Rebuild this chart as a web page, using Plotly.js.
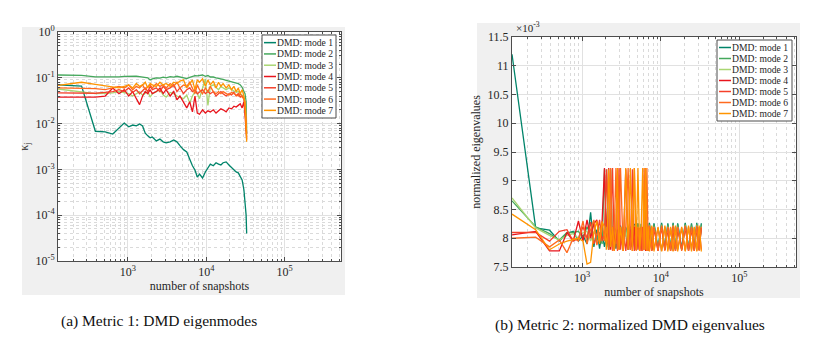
<!DOCTYPE html>
<html>
<head>
<meta charset="utf-8">
<script src="https://cdn.plot.ly/plotly-3.0.1.min.js"></script>
<style>
  html, body { margin: 0; padding: 0; background: #fff; }
  #chart { width: 831px; height: 358px; }
</style>
</head>
<body>
<div id="chart"></div>
<script>
// ---- panel (a): DMD eigenmode metric kappa_j vs number of snapshots ----
const snapshotsA = [128, 256, 384, 512, 640, 768, 896, 1024, 1152, 1280, 1408, 1536, 1664, 1792, 1920, 2048,
  2304, 2560, 2816, 3072, 3456, 3840, 4224, 4608, 5120, 5632, 6144, 6656, 7168, 7680, 8192, 8960, 9728,
  10496, 11264, 12288, 13312, 14336, 15360, 16384, 17920, 19456, 20992, 22528, 24064, 25600, 27136,
  28672, 30208, 31232, 32256, 32768];

const kappa1 = [0.070, 0.066, 0.0068, 0.0066, 0.0059, 0.0080, 0.0103, 0.0085, 0.0093, 0.0089, 0.0098, 0.0089,
  0.0062, 0.0054, 0.0049, 0.0051, 0.0042, 0.0046, 0.0040, 0.0038, 0.0040, 0.0044, 0.0040, 0.0033, 0.0027,
  0.0024, 0.0016, 0.0012, 0.00097, 0.00068, 0.00079, 0.00065, 0.00088, 0.0011, 0.0013, 0.0012, 0.0014,
  0.0013, 0.00125, 0.0014, 0.00146, 0.00125, 0.0011, 0.00097, 0.00088, 0.00084, 0.00072, 0.00059,
  0.00036, 0.00022, 0.0001, 0.00004];
const kappa2 = [0.115, 0.113, 0.105, 0.104, 0.104, 0.105, 0.107, 0.108, 0.110, 0.108, 0.106, 0.104, 0.102,
  0.100, 0.090, 0.095, 0.100, 0.098, 0.103, 0.100, 0.106, 0.103, 0.108, 0.104, 0.098, 0.096, 0.102, 0.108,
  0.112, 0.110, 0.112, 0.115, 0.108, 0.112, 0.104, 0.104, 0.100, 0.098, 0.095, 0.092, 0.088, 0.085, 0.083,
  0.080, 0.078, 0.075, 0.070, 0.062, 0.050, 0.045, 0.030, 0.006];
const kappa3 = [0.057, 0.048, 0.045, 0.046, 0.047, 0.050, 0.048, 0.045, 0.040, 0.044, 0.050, 0.042, 0.045,
  0.050, 0.038, 0.045, 0.050, 0.055, 0.042, 0.038, 0.048, 0.045, 0.040, 0.038, 0.035, 0.042, 0.028, 0.040,
  0.050, 0.045, 0.035, 0.060, 0.095, 0.025, 0.065, 0.070, 0.060, 0.055, 0.065, 0.060, 0.055, 0.060, 0.055,
  0.050, 0.048, 0.050, 0.045, 0.040, 0.038, 0.030, 0.015, 0.008];
const kappa4 = [0.038, 0.038, 0.038, 0.040, 0.060, 0.045, 0.055, 0.040, 0.050, 0.035, 0.026, 0.040, 0.050,
  0.045, 0.055, 0.045, 0.050, 0.060, 0.045, 0.055, 0.040, 0.050, 0.033, 0.040, 0.028, 0.022, 0.030, 0.018,
  0.040, 0.017, 0.016, 0.020, 0.017, 0.019, 0.018, 0.020, 0.017, 0.019, 0.021, 0.020, 0.018, 0.022, 0.021,
  0.024, 0.023, 0.025, 0.027, 0.022, 0.030, 0.015, 0.006, 0.0045];
const kappa5 = [0.047, 0.047, 0.046, 0.048, 0.050, 0.055, 0.050, 0.060, 0.048, 0.055, 0.045, 0.052, 0.060,
  0.050, 0.065, 0.055, 0.060, 0.050, 0.065, 0.055, 0.060, 0.070, 0.050, 0.060, 0.045, 0.055, 0.060, 0.050,
  0.055, 0.045, 0.050, 0.055, 0.045, 0.050, 0.045, 0.050, 0.040, 0.045, 0.050, 0.045, 0.040, 0.045, 0.042,
  0.048, 0.040, 0.045, 0.038, 0.040, 0.035, 0.020, 0.008, 0.006];
const kappa6 = [0.060, 0.060, 0.058, 0.055, 0.060, 0.065, 0.060, 0.070, 0.055, 0.065, 0.060, 0.070, 0.055,
  0.065, 0.070, 0.060, 0.075, 0.065, 0.070, 0.060, 0.075, 0.065, 0.080, 0.060, 0.070, 0.065, 0.080, 0.060,
  0.045, 0.070, 0.055, 0.045, 0.060, 0.050, 0.065, 0.050, 0.045, 0.050, 0.045, 0.050, 0.045, 0.042, 0.048,
  0.045, 0.042, 0.040, 0.045, 0.038, 0.035, 0.030, 0.012, 0.005];
const kappa7 = [0.068, 0.080, 0.072, 0.066, 0.062, 0.060, 0.065, 0.070, 0.060, 0.075, 0.065, 0.070, 0.080,
  0.060, 0.075, 0.070, 0.065, 0.080, 0.070, 0.075, 0.065, 0.080, 0.075, 0.085, 0.090, 0.060, 0.075, 0.090,
  0.055, 0.090, 0.080, 0.095, 0.065, 0.090, 0.070, 0.085, 0.060, 0.080, 0.065, 0.075, 0.060, 0.070, 0.055,
  0.065, 0.050, 0.060, 0.045, 0.055, 0.040, 0.025, 0.008, 0.004];

// ---- panel (b): normalized DMD eigenvalues (values in units of 1e-3) ----
const snapshotsB = [128, 256, 384, 512, 640, 768, 896, 1024, 1152, 1280, 1408, 1536, 1664, 1792, 1920, 2048,
  2176, 2304, 2432, 2560, 2688, 2816, 2944, 3072, 3328, 3584, 3840, 4096, 4352, 4608, 4864, 5120, 5376,
  5632, 5888, 6144, 6400, 6656, 6912, 7168, 7680, 8192, 9216, 10240, 11264, 12288, 13312, 14336, 15360,
  16384, 18432, 20480, 22528, 24576, 26624, 28672, 30720, 32768];

const eig1 = [11.2, 8.18, 8.14, 7.95, 8.08, 8.12, 7.95, 8.05, 7.9, 8.45, 7.85, 8.15, 7.82, 8.1,
  7.85, 8.05, 7.8, 8.15, 7.9, 8.2, 7.82, 8.1, 7.88, 8.22, 7.85, 8.18, 7.8, 8.2, 7.9, 8.25, 7.82, 8.26, 7.8,
  8.25, 7.82, 8.27, 7.8, 8.26, 7.82,
  8.27, 7.8, 8.26, 7.82, 8.27, 7.8, 8.26, 7.81, 8.27, 7.8, 8.26, 7.82, 8.27, 7.8, 8.26, 7.81, 8.27, 7.8, 8.26];
const eig2 = [8.65, 8.2, 8.08, 7.97, 8.1, 8.1, 8.12, 8.0, 8.2, 8.05, 8.3, 7.95, 8.1, 7.9,
  9.2, 7.85, 8.1, 9.2, 7.9, 8.2, 7.85, 8.15, 7.9, 8.2, 7.85, 8.2, 7.82, 8.18, 7.85, 8.22, 7.8, 8.25, 7.82,
  8.24, 7.8, 8.25, 7.85, 8.24, 7.8,
  8.25, 7.8, 8.24, 7.82, 8.25, 7.8, 8.24, 7.8, 8.25, 7.81, 8.24, 7.8, 8.25, 7.82, 8.24, 7.8, 8.25, 7.81, 8.24];
const eig3 = [8.7, 8.18, 8.05, 7.97, 8.05, 8.08, 8.0, 8.1, 8.12, 7.95, 8.1, 8.05, 8.2, 7.95,
  8.0, 9.2, 7.9, 8.15, 7.85, 8.2, 7.9, 8.1, 7.82, 8.2, 7.88, 8.15, 7.8, 8.2, 7.85, 8.22, 7.8, 8.2, 7.85,
  8.22, 7.8, 8.2, 7.82, 8.22, 7.8,
  8.22, 7.82, 8.2, 7.8, 8.22, 7.82, 8.2, 7.8, 8.22, 7.82, 8.2, 7.8, 8.22, 7.8, 8.2, 7.82, 8.22, 7.8, 8.2];
const eig4 = [8.06, 8.12, 7.78, 7.78, 8.1, 7.95, 8.3, 7.95, 8.32, 8.0, 8.25, 8.32, 7.95, 8.3,
  9.22, 7.9, 9.22, 7.8, 8.2, 7.78, 8.15, 9.2, 7.8, 8.2, 7.78, 9.2, 7.8, 8.15, 7.78, 8.2, 7.8, 8.18, 7.78,
  8.2, 7.8, 8.15, 7.78, 8.2, 7.78,
  8.2, 7.78, 8.18, 7.78, 8.2, 7.8, 8.18, 7.78, 8.2, 7.78, 8.18, 7.8, 8.2, 7.78, 8.18, 7.78, 8.2, 7.8, 8.18];
const eig5 = [8.1, 8.1, 7.95, 8.12, 8.15, 7.95, 8.0, 8.2, 8.0, 8.28, 7.9, 8.05, 8.32, 7.95,
  8.1, 9.2, 7.8, 8.2, 9.22, 7.8, 8.15, 7.78, 9.22, 7.8, 8.2, 7.78, 8.15, 7.8, 9.2, 7.78, 8.2, 7.8, 8.18,
  7.78, 8.2, 7.8, 8.15, 7.78, 8.2,
  7.78, 8.2, 7.8, 8.18, 7.78, 8.2, 7.8, 8.18, 7.78, 8.2, 7.8, 8.18, 7.78, 8.2, 7.8, 8.18, 7.78, 8.2, 7.8];
const eig6 = [8.0, 8.02, 7.85, 7.97, 7.75, 8.0, 7.95, 8.3, 7.9, 8.15, 8.32, 7.88, 8.05, 8.3,
  7.95, 8.2, 7.8, 9.22, 7.78, 8.15, 9.22, 7.8, 8.2, 9.22, 7.78, 8.2, 9.22, 7.8, 8.15, 9.22, 7.78, 8.2, 7.8,
  8.2, 7.78, 9.22, 7.8, 9.22, 7.78,
  8.22, 7.78, 8.2, 7.78, 8.22, 7.78, 8.2, 7.78, 8.22, 7.78, 8.2, 7.78, 8.22, 7.78, 8.2, 7.78, 8.22, 7.78, 8.2];
const eig7 = [8.42, 8.15, 7.8, 7.9, 7.95, 7.97, 8.0, 7.95, 7.55, 7.58, 8.1, 8.3, 7.9, 8.28,
  8.2, 7.8, 9.2, 7.85, 8.2, 7.78, 8.15, 9.22, 7.8, 8.2, 7.78, 9.22, 7.8, 9.22, 7.78, 9.22, 7.8, 9.22, 7.78,
  8.2, 9.22, 7.8, 9.22, 7.78, 8.2,
  7.77, 8.22, 7.77, 8.2, 7.77, 8.22, 7.77, 8.2, 7.77, 8.22, 7.77, 8.2, 7.77, 8.22, 7.77, 8.2, 7.77, 8.22, 7.77];

const modeNames = ['DMD: mode 1', 'DMD: mode 2', 'DMD: mode 3', 'DMD: mode 4',
  'DMD: mode 5', 'DMD: mode 6', 'DMD: mode 7'];
const modeColors = ['#00846a', '#45a85c', '#a9d672', '#e8141c', '#f5402a', '#ff6a1f', '#ff9400'];

const kappaSeries = [kappa1, kappa2, kappa3, kappa4, kappa5, kappa6, kappa7];
const eigSeries = [eig1, eig2, eig3, eig4, eig5, eig6, eig7];

// ---- figure geometry (pixels -> paper) ----
const W = 831, H = 358;
const fx = p => p / W;
const fy = p => 1 - p / H;
const serif = 'Liberation Serif, Times New Roman, serif';
const inkColor = '#262626';

let traces = [];
modeNames.forEach((name, i) => {
  traces.push({
    x: snapshotsA, y: kappaSeries[i], type: 'scatter', mode: 'lines', name: name,
    xaxis: 'x', yaxis: 'y', showlegend: false,
    line: { color: modeColors[i], width: 1.3 }
  });
});
modeNames.forEach((name, i) => {
  traces.push({
    x: snapshotsB, y: eigSeries[i], type: 'scatter', mode: 'lines', name: name,
    xaxis: 'x2', yaxis: 'y2', showlegend: false,
    line: { color: modeColors[i], width: 1.3 }
  });
});

// minor log ticks 2..9 x 10^k
function minorLogTicks(kLo, kHi) {
  let out = [];
  for (let k = kLo; k <= kHi; k++) {
    for (let m = 2; m <= 9; m++) out.push(m * Math.pow(10, k));
  }
  return out;
}
const sup = k => '10<sup>' + k + '</sup>';

const xTickVals = [1e3, 1e4, 1e5];
const xTickText = [3, 4, 5].map(sup);
const yTickValsA = [1e-5, 1e-4, 1e-3, 1e-2, 1e-1, 1];
const yTickTextA = [-5, -4, -3, -2, -1, 0].map(sup);

const baseAxis = {
  showline: true, linecolor: '#4d4d4d', linewidth: 1, mirror: 'ticks',
  ticks: 'inside', ticklen: 4, tickcolor: '#4d4d4d',
  showgrid: true, gridcolor: '#e1e1e1', zeroline: false,
  tickfont: { family: serif, size: 12, color: inkColor }
};
const minorLog = {
  ticks: 'inside', ticklen: 2, tickcolor: '#4d4d4d',
  showgrid: true, gridcolor: '#dadada', griddash: 'dot', gridwidth: 1
};
const xRange = [Math.log10(128), Math.log10(524288)];

const layout = {
  width: W, height: H,
  margin: { l: 0, r: 0, t: 0, b: 0 },
  paper_bgcolor: '#ffffff', plot_bgcolor: '#ffffff',
  showlegend: false,
  font: { family: serif, color: inkColor },
  xaxis: Object.assign({}, baseAxis, {
    domain: [fx(58), fx(341)], anchor: 'y', type: 'log', range: xRange,
    tickmode: 'array', tickvals: xTickVals, ticktext: xTickText,
    minor: Object.assign({ tickmode: 'array', tickvals: minorLogTicks(2, 5) }, minorLog),
    title: { text: 'number of snapshots', font: { family: serif, size: 12, color: inkColor }, standoff: 2 }
  }),
  yaxis: Object.assign({}, baseAxis, {
    domain: [fy(261), fy(32)], anchor: 'x', type: 'log', range: [-5, 0],
    tickmode: 'array', tickvals: yTickValsA, ticktext: yTickTextA,
    minor: Object.assign({ tickmode: 'array', tickvals: minorLogTicks(-5, -1) }, minorLog),
    title: { text: 'κ<sub>j</sub>', font: { family: serif, size: 12, color: inkColor }, standoff: 4 }
  }),
  xaxis2: Object.assign({}, baseAxis, {
    domain: [fx(512), fx(796)], anchor: 'y2', type: 'log', range: xRange,
    tickmode: 'array', tickvals: xTickVals, ticktext: xTickText,
    minor: Object.assign({ tickmode: 'array', tickvals: minorLogTicks(2, 5) }, minorLog),
    title: { text: 'number of snapshots', font: { family: serif, size: 12, color: inkColor }, standoff: 2 }
  }),
  yaxis2: Object.assign({}, baseAxis, {
    domain: [fy(267), fy(37)], anchor: 'x2', range: [7.5, 11.5],
    tickmode: 'linear', tick0: 7.5, dtick: 0.5,
    title: { text: 'normalized eigenvalues', font: { family: serif, size: 12, color: inkColor }, standoff: 4 }
  }),
  shapes: [],
  annotations: []
};

// grey panel behind each axes, then white plot area on top of it
const panels = [
  { outer: [22, 27, 345, 295], inner: [58, 32, 341, 261] },
  { outer: [477, 23, 800, 298], inner: [512, 37, 796, 267] }
];
panels.forEach(p => {
  layout.shapes.push({ type: 'rect', xref: 'paper', yref: 'paper', layer: 'below',
    x0: fx(p.outer[0]), x1: fx(p.outer[2]), y0: fy(p.outer[3]), y1: fy(p.outer[1]),
    fillcolor: '#f0f0f0', line: { width: 0 } });
  layout.shapes.push({ type: 'rect', xref: 'paper', yref: 'paper', layer: 'below',
    x0: fx(p.inner[0]), x1: fx(p.inner[2]), y0: fy(p.inner[3]), y1: fy(p.inner[1]),
    fillcolor: '#ffffff', line: { width: 0 } });
});

// MATLAB-style legend boxes (drawn by hand: plotly's legend rows are too tall)
function addLegend(left, top, right, bottom) {
  layout.shapes.push({ type: 'rect', xref: 'paper', yref: 'paper', layer: 'above',
    x0: fx(left), x1: fx(right), y0: fy(bottom), y1: fy(top),
    fillcolor: '#ffffff', line: { color: '#4d4d4d', width: 1 } });
  const step = (bottom - top - 4) / modeNames.length;
  modeNames.forEach((name, i) => {
    const yc = top + 2 + step * (i + 0.5);
    layout.shapes.push({ type: 'line', xref: 'paper', yref: 'paper', layer: 'above',
      x0: fx(left + 2), x1: fx(left + 14), y0: fy(yc), y1: fy(yc),
      line: { color: modeColors[i], width: 1.5 } });
    layout.annotations.push({ xref: 'paper', yref: 'paper', x: fx(left + 14), y: fy(yc),
      xanchor: 'left', yanchor: 'middle', showarrow: false, text: name, borderpad: 0,
      font: { family: serif, size: 9.6, color: inkColor } });
  });
}
addLegend(262, 35, 336, 118);
addLegend(717, 40, 792, 121);

// exponent label of panel (b)
layout.annotations.push({ xref: 'paper', yref: 'paper', x: fx(514), y: fy(36),
  xanchor: 'left', yanchor: 'bottom', showarrow: false, text: '×10<sup>-3</sup>',
  font: { family: serif, size: 11, color: inkColor } });

// sub-figure captions
layout.annotations.push({ xref: 'paper', yref: 'paper', x: fx(159), y: fy(321),
  xanchor: 'center', yanchor: 'middle', showarrow: false, text: '(a) Metric 1: DMD eigenmodes',
  font: { family: serif, size: 15.5, color: '#111' } });
layout.annotations.push({ xref: 'paper', yref: 'paper', x: fx(630), y: fy(325),
  xanchor: 'center', yanchor: 'middle', showarrow: false, text: '(b) Metric 2: normalized DMD eigenvalues',
  font: { family: serif, size: 15.5, color: '#111' } });

Plotly.newPlot('chart', traces, layout, { displayModeBar: false, staticPlot: true });
</script>
</body>
</html>
